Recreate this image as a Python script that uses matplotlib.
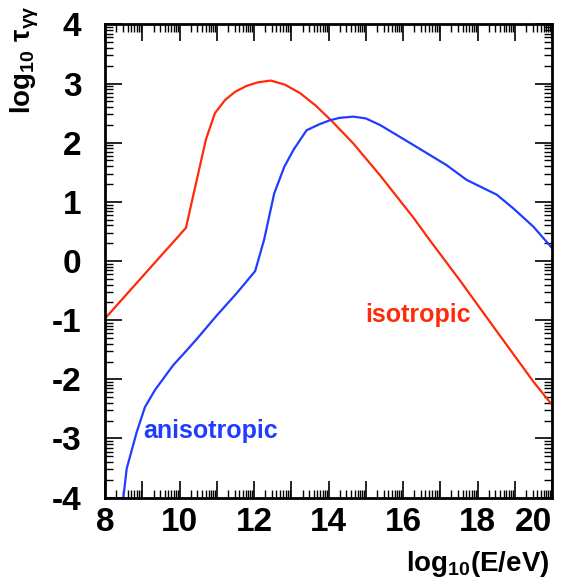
import numpy as np
import matplotlib
matplotlib.use("Agg")
import matplotlib.pyplot as plt
from matplotlib.ticker import MultipleLocator, FixedLocator, FuncFormatter

FONT = 'Liberation Sans'
plt.rcParams['font.family'] = [FONT, 'DejaVu Sans']
plt.rcParams['font.weight'] = 'bold'
plt.rcParams['axes.unicode_minus'] = False
plt.rcParams['mathtext.fontset'] = 'custom'
plt.rcParams['mathtext.rm'] = FONT + ':bold'
plt.rcParams['mathtext.bf'] = FONT + ':bold'
plt.rcParams['mathtext.it'] = FONT + ':bold'

# isotropic curve (red)
iso_x = [8.0, 10.17, 10.71, 10.95, 11.22, 11.49, 11.80, 12.10, 12.45, 12.83,
         13.23, 13.65, 14.08, 14.66, 15.38, 16.27, 16.72, 17.53, 18.07, 18.60,
         19.05, 19.50, 20.0]
iso_y = [-0.97, 0.56, 2.06, 2.50, 2.72, 2.86, 2.96, 3.02, 3.05, 2.98,
         2.84, 2.63, 2.37, 1.99, 1.45, 0.74, 0.35, -0.33, -0.80, -1.26,
         -1.65, -2.04, -2.43]

# anisotropic curve (blue)
aniso_x = [8.49, 8.58, 8.85, 9.07, 9.34, 9.83, 10.15, 10.46, 11.0, 11.54,
           12.03, 12.27, 12.54, 12.81, 13.06, 13.41, 13.75, 14.04, 14.30, 14.67,
           15.0, 15.38, 16.28, 17.17, 17.71, 18.52, 18.96, 19.50, 20.0]
aniso_y = [-4.0, -3.51, -2.89, -2.47, -2.18, -1.76, -1.54, -1.32, -0.92, -0.54,
           -0.17, 0.36, 1.14, 1.59, 1.88, 2.21, 2.31, 2.38, 2.42, 2.44,
           2.41, 2.30, 1.96, 1.62, 1.37, 1.12, 0.89, 0.58, 0.22]

red = '#ff2a0a'
blue = '#1f3cff'

fig = plt.figure(figsize=(5.65, 5.8), dpi=100)
ax = fig.add_axes([0.186, 0.142, 0.791, 0.816])

ax.plot(iso_x, iso_y, color=red, lw=1.6)
ax.plot(aniso_x, aniso_y, color=blue, lw=1.6)

ax.set_xlim(8, 20)
ax.set_ylim(-4, 4)

# ROOT-like ticks: major every unit, log-spaced minors
ax.xaxis.set_major_locator(MultipleLocator(1))
ax.yaxis.set_major_locator(MultipleLocator(1))
xminor = [n + np.log10(k) for n in range(8, 20) for k in range(2, 10)]
yminor = [n + np.log10(k) for n in range(-4, 4) for k in range(2, 10)]
ax.xaxis.set_minor_locator(FixedLocator(xminor))
ax.yaxis.set_minor_locator(FixedLocator(yminor))
ax.xaxis.set_major_formatter(FuncFormatter(lambda v, p: '%d' % v if int(round(v)) % 2 == 0 else ''))
ax.yaxis.set_major_formatter(FuncFormatter(lambda v, p: '%d' % v))

ax.tick_params(which='both', direction='in', top=True, right=True, width=1.2)
ax.tick_params(which='major', length=12)
ax.tick_params(which='minor', length=6, width=1.0)
ax.tick_params(axis='x', which='major', labelsize=24, pad=7)
ax.tick_params(axis='y', which='major', labelsize=24, pad=17)
for s in ax.spines.values():
    s.set_linewidth(2)

# keep the last x label inside the canvas
fig.canvas.draw()
for lab in ax.get_xticklabels():
    lab.set_fontweight('bold')
    if lab.get_text() == '20':
        lab.set_horizontalalignment('right')
for lab in ax.get_yticklabels():
    lab.set_fontweight('bold')

ax.text(14.98, -1.03, 'isotropic', color=red, fontsize=18, fontweight='bold',
        ha='left', va='baseline')
ax.text(9.02, -3.0, 'anisotropic', color=blue, fontsize=18, fontweight='bold',
        ha='left', va='baseline')

fig.text(0.973, 0.016, r'$\mathbf{log_{10}(E/eV)}$', fontsize=20,
         ha='right', va='baseline')
fig.text(0.044, 0.991, r'$\mathbf{log_{10}\ \tau_{\gamma\gamma}}$', fontsize=20,
         rotation=90, ha='center', va='top')

fig.savefig('out.png', dpi=100)
